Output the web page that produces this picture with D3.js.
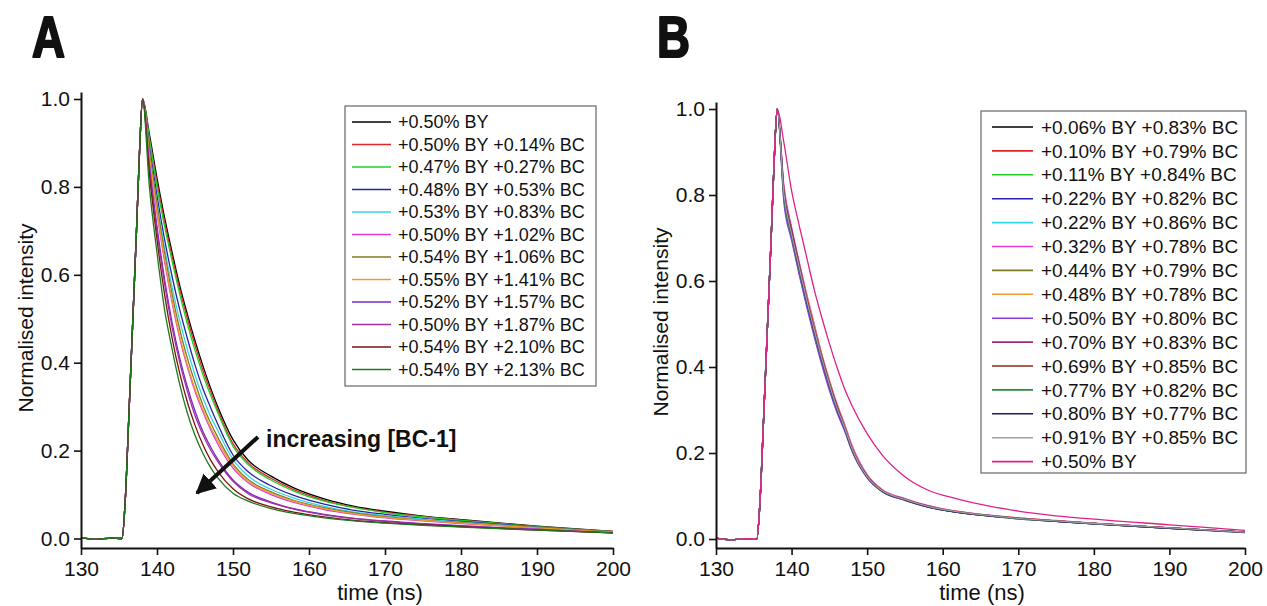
<!DOCTYPE html>
<html>
<head>
<meta charset="utf-8">
<script src="https://cdn.jsdelivr.net/npm/d3@7"></script>
<style>
  body { margin: 0; background: #fff; }
  text { font-family: "Liberation Sans", Arial, sans-serif; fill: #111; }
</style>
</head>
<body>
<svg id="chart" width="1267" height="606"></svg>
<script>
// shared rising edge of the pulse (time in ns, normalised intensity)
const riseTimes  = [130, 132, 134, 135.4, 135.8, 136.3, 136.8, 137.3, 137.7, 138.1];
const riseValues = [0.002, -0.002, 0.001, 0, 0.08, 0.28, 0.49, 0.70, 0.88, 1.0];

// decay part, sampled at these times
const decayTimes = [139, 140, 141, 142, 143, 144, 145, 146, 147, 148, 150, 152, 155, 158, 162, 166, 170, 175, 180, 190, 200];

// panel A
const labelsA = ["+0.50% BY", "+0.50% BY +0.14% BC", "+0.47% BY +0.27% BC", "+0.48% BY +0.53% BC",
  "+0.53% BY +0.83% BC", "+0.50% BY +1.02% BC", "+0.54% BY +1.06% BC", "+0.55% BY +1.41% BC",
  "+0.52% BY +1.57% BC", "+0.50% BY +1.87% BC", "+0.54% BY +2.10% BC", "+0.54% BY +2.13% BC"];
const colorsA = ["#000000", "#e0262b", "#22d022", "#2323a8", "#33d6e8", "#e23ad8",
  "#7d7d22", "#ee9a30", "#7a28c8", "#a0309e", "#7a1414", "#1c7a1c"];
const decayA = [
  [.92, .82, .73, .65, .575, .51, .45, .395, .345, .30, .225, .178, .142, .115, .090, .073, .062, .051, .043, .028, .016],
  [.91, .81, .72, .64, .565, .50, .44, .385, .337, .292, .216, .172, .137, .111, .087, .071, .060, .050, .042, .027, .016],
  [.91, .80, .71, .63, .555, .488, .428, .375, .328, .286, .21, .168, .133, .108, .085, .070, .059, .049, .041, .027, .015],
  [.89, .78, .68, .595, .52, .455, .395, .343, .30, .26, .19, .152, .12, .098, .078, .064, .055, .046, .039, .026, .015],
  [.88, .765, .66, .57, .495, .43, .372, .322, .28, .245, .18, .142, .112, .092, .073, .06, .052, .044, .037, .025, .015],
  [.87, .74, .63, .535, .455, .39, .335, .29, .25, .215, .16, .127, .10, .082, .066, .055, .047, .040, .034, .024, .014],
  [.88, .76, .65, .555, .475, .41, .355, .305, .265, .23, .17, .134, .106, .087, .07, .058, .05, .042, .036, .025, .015],
  [.87, .745, .635, .54, .46, .395, .34, .295, .255, .222, .165, .13, .103, .085, .068, .056, .048, .041, .035, .024, .014],
  [.85, .71, .59, .49, .41, .345, .29, .245, .21, .18, .133, .105, .083, .068, .055, .046, .04, .034, .029, .021, .013],
  [.84, .70, .58, .48, .40, .335, .28, .238, .203, .175, .13, .102, .081, .067, .054, .045, .039, .033, .028, .02, .013],
  [.83, .68, .555, .455, .375, .31, .258, .215, .18, .153, .113, .09, .072, .06, .049, .041, .036, .031, .027, .019, .013],
  [.80, .65, .52, .43, .35, .285, .235, .195, .163, .138, .103, .085, .068, .057, .047, .04, .035, .03, .026, .019, .013]
];

// panel B
const labelsB = ["+0.06% BY +0.83% BC", "+0.10% BY +0.79% BC", "+0.11% BY +0.84% BC", "+0.22% BY +0.82% BC",
  "+0.22% BY +0.86% BC", "+0.32% BY +0.78% BC", "+0.44% BY +0.79% BC", "+0.48% BY +0.78% BC",
  "+0.50% BY +0.80% BC", "+0.70% BY +0.83% BC", "+0.69% BY +0.85% BC", "+0.77% BY +0.82% BC",
  "+0.80% BY +0.77% BC", "+0.91% BY +0.85% BC", "+0.50% BY"];
const colorsB = ["#000000", "#e0262b", "#22d022", "#2323a8", "#33d6e8", "#e23ad8", "#7d7d22", "#ee9a30",
  "#8a3ae8", "#a02878", "#8a2a14", "#2a8a3a", "#1a1a6e", "#a0a0a0", "#e0208a"];
const decayB = [
  [.80, .71, .63, .555, .485, .42, .36, .305, .26, .21, .145, .112, .092, .076, .063, .055, .048, .042, .036, .026, .016],
  [.81, .72, .64, .56, .49, .425, .365, .31, .262, .212, .147, .113, .093, .077, .064, .055, .049, .042, .036, .026, .016],
  [.79, .70, .62, .545, .475, .41, .35, .298, .255, .206, .143, .11, .09, .075, .062, .054, .047, .041, .035, .025, .015],
  [.80, .705, .625, .55, .48, .415, .355, .30, .257, .208, .144, .111, .091, .075, .062, .054, .048, .041, .035, .025, .016],
  [.81, .715, .635, .56, .49, .42, .36, .305, .26, .21, .146, .112, .092, .076, .063, .055, .048, .042, .036, .026, .016],
  [.82, .725, .645, .57, .50, .43, .37, .315, .268, .218, .15, .115, .094, .078, .064, .056, .049, .043, .037, .026, .016],
  [.80, .71, .63, .555, .485, .42, .36, .305, .26, .21, .146, .112, .092, .076, .063, .055, .048, .042, .036, .026, .016],
  [.81, .72, .64, .565, .495, .428, .368, .312, .265, .215, .148, .114, .093, .077, .064, .055, .049, .042, .036, .026, .016],
  [.78, .695, .615, .54, .47, .405, .346, .295, .252, .204, .142, .11, .09, .074, .062, .054, .047, .041, .035, .025, .015],
  [.81, .72, .64, .56, .49, .425, .364, .31, .262, .212, .147, .113, .093, .077, .063, .055, .048, .042, .036, .026, .016],
  [.80, .715, .635, .56, .49, .422, .362, .308, .26, .21, .146, .112, .092, .076, .063, .055, .048, .042, .036, .026, .016],
  [.79, .705, .625, .55, .48, .415, .356, .302, .258, .208, .144, .111, .091, .075, .062, .054, .047, .041, .035, .025, .016],
  [.80, .71, .63, .553, .483, .418, .358, .303, .258, .208, .144, .111, .091, .075, .062, .054, .048, .041, .035, .025, .016],
  [.80, .71, .632, .556, .486, .42, .36, .305, .26, .21, .145, .112, .092, .076, .063, .055, .048, .042, .036, .026, .016],
  [.92, .81, .73, .655, .58, .515, .455, .40, .35, .31, .245, .195, .145, .114, .093, .077, .065, .054, .046, .033, .02]
];

const xTicks = [130, 140, 150, 160, 170, 180, 190, 200];
const yTicks = [0, 0.2, 0.4, 0.6, 0.8, 1.0];

const svg = d3.select("#chart");

function drawPanel(cfg) {
  let g = svg.append("g");

  let x = d3.scaleLinear().domain([130, 200]).range([cfg.left, cfg.right]);
  // y scale fixed by where 0 and 1 sit, then stretched to the axis ends
  let y0 = d3.scaleLinear().domain([0, 1]).range([cfg.zeroY, cfg.oneY]);
  let y = d3.scaleLinear()
      .domain([y0.invert(cfg.bottom), y0.invert(cfg.top)])
      .range([cfg.bottom, cfg.top]);

  g.append("clipPath").attr("id", "clip" + cfg.name)
    .append("rect")
    .attr("x", cfg.left).attr("y", cfg.top)
    .attr("width", cfg.right - cfg.left).attr("height", cfg.bottom - cfg.top);

  let line = d3.line()
      .x(d => x(d[0]))
      .y(d => y(d[1]))
      .curve(d3.curveMonotoneX);

  let series = cfg.decay.map((vals, i) => {
    let pts = riseTimes.map((t, j) => [t, riseValues[j]]);
    decayTimes.forEach((t, j) => pts.push([t, vals[j]]));
    return {label: cfg.labels[i], color: cfg.colors[i], pts: pts};
  });

  g.append("g")
    .attr("clip-path", "url(#clip" + cfg.name + ")")
    .selectAll("path")
    .data(series)
    .join("path")
    .attr("d", d => line(d.pts))
    .attr("fill", "none")
    .attr("stroke", d => d.color)
    .attr("stroke-width", 1.3);

  // axes
  let xAxis = g.append("g")
    .attr("transform", "translate(0," + cfg.bottom + ")")
    .call(d3.axisBottom(x).tickValues(xTicks).tickFormat(d3.format("d"))
      .tickSizeInner(7).tickSizeOuter(0).tickPadding(6));
  let yAxis = g.append("g")
    .attr("transform", "translate(" + cfg.left + ",0)")
    .call(d3.axisLeft(y).tickValues(yTicks).tickFormat(d3.format(".1f"))
      .tickSizeInner(7).tickSizeOuter(0).tickPadding(4));

  [xAxis, yAxis].forEach(a => {
    a.select(".domain").attr("stroke", "#111").attr("stroke-width", 2);
    a.selectAll(".tick line").attr("stroke", "#111").attr("stroke-width", 1.6);
    a.selectAll(".tick text").attr("font-size", 21).attr("fill", "#111")
      .attr("font-family", "Liberation Sans, Arial, sans-serif");
  });

  // axis titles
  g.append("text")
    .attr("x", cfg.xTitleX).attr("y", 600)
    .attr("text-anchor", "middle")
    .attr("font-size", 22)
    .text("time (ns)");

  g.append("text")
    .attr("transform", "translate(" + cfg.yTitleX + "," + cfg.yTitleY + ") rotate(-90)")
    .attr("text-anchor", "middle")
    .attr("font-size", 21)
    .text("Normalised intensity");

  // panel letter
  g.append("text")
    .attr("x", cfg.letterX).attr("y", 57)
    .attr("font-size", 58)
    .attr("font-weight", "bold")
    .attr("textLength", 33)
    .attr("lengthAdjust", "spacingAndGlyphs")
    .attr("stroke", "#111")
    .attr("stroke-width", 2.2)
    .attr("stroke-linejoin", "round")
    .text(cfg.name);

  // legend
  let lg = cfg.legend;
  g.append("rect")
    .attr("x", lg.x).attr("y", lg.y)
    .attr("width", lg.w).attr("height", lg.h)
    .attr("fill", "#fff")
    .attr("stroke", "#666")
    .attr("stroke-width", 1.2);

  let rows = g.append("g").selectAll("g")
    .data(series)
    .join("g")
    .attr("transform", (d, i) => "translate(0," + (lg.firstRow + i * lg.step) + ")");

  rows.append("line")
    .attr("x1", lg.sx1).attr("x2", lg.sx2)
    .attr("y1", 0).attr("y2", 0)
    .attr("stroke", d => d.color)
    .attr("stroke-width", 1.6);

  rows.append("text")
    .attr("x", lg.tx)
    .attr("y", 0)
    .attr("dy", "0.35em")
    .attr("font-size", lg.fs)
    .text(d => d.label);

  return {x: x, y: y, g: g};
}

let panelA = drawPanel({
  name: "A", left: 81, right: 613, top: 92, bottom: 548, zeroY: 538.5, oneY: 99,
  decay: decayA, labels: labelsA, colors: colorsA,
  xTitleX: 380, yTitleX: 33, yTitleY: 318, letterX: 32,
  legend: {x: 345, y: 106, w: 251, h: 280, firstRow: 122, step: 22.5, sx1: 352, sx2: 391, tx: 398, fs: 18}
});

drawPanel({
  name: "B", left: 716, right: 1245, top: 102, bottom: 548, zeroY: 539, oneY: 109,
  decay: decayB, labels: labelsB, colors: colorsB,
  xTitleX: 982, yTitleX: 668, yTitleY: 322, letterX: 657,
  legend: {x: 981, y: 111, w: 265, h: 362, firstRow: 127, step: 23.9, sx1: 992, sx2: 1033, tx: 1041, fs: 19}
});

// "increasing [BC-1]" annotation with arrow
let defs = svg.append("defs");
defs.append("marker")
  .attr("id", "head")
  .attr("viewBox", "0 0 10 10")
  .attr("refX", 9).attr("refY", 5)
  .attr("markerWidth", 5).attr("markerHeight", 5)
  .attr("markerUnits", "strokeWidth")
  .attr("orient", "auto")
  .append("path")
  .attr("d", "M0,0 L10,5 L0,10 Z")
  .attr("fill", "#111");

panelA.g.append("line")
  .attr("x1", 258).attr("y1", 437)
  .attr("x2", 197).attr("y2", 493)
  .attr("stroke", "#111")
  .attr("stroke-width", 4)
  .attr("marker-end", "url(#head)");

panelA.g.append("text")
  .attr("x", 266).attr("y", 447)
  .attr("font-size", 23)
  .attr("font-weight", "bold")
  .text("increasing [BC-1]");
</script>
</body>
</html>
